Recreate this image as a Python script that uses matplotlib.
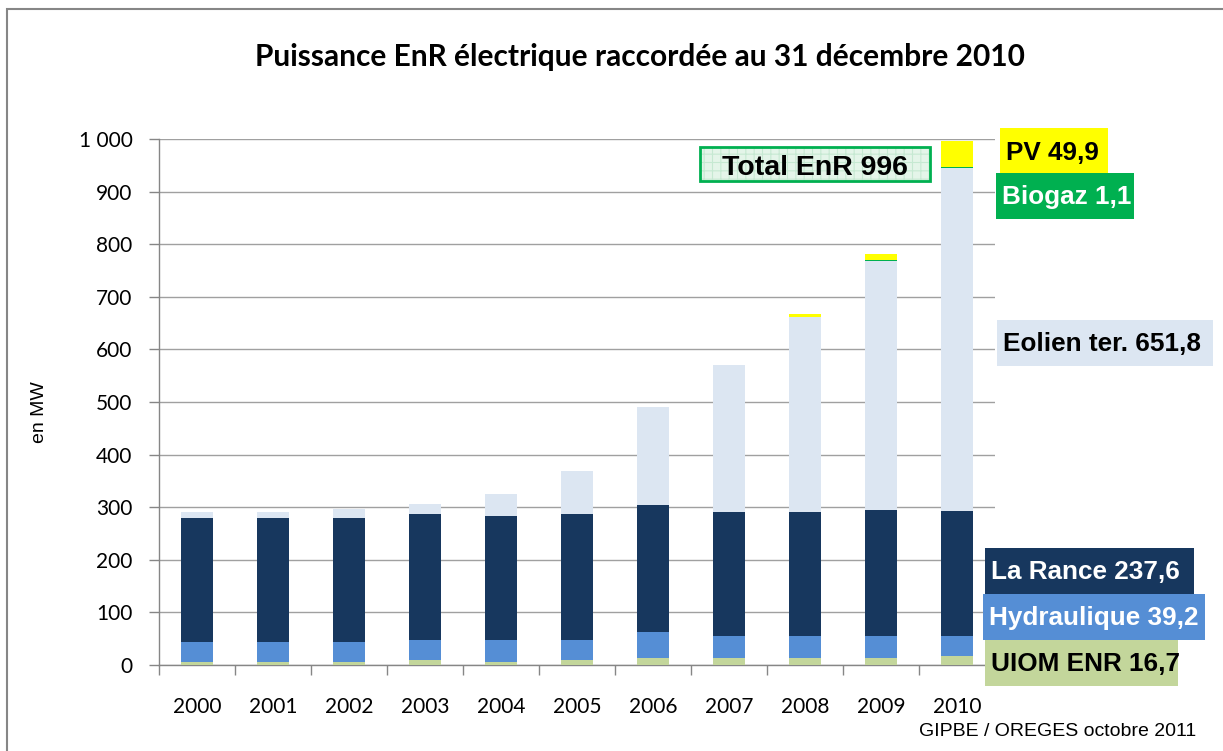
import matplotlib
matplotlib.use("Agg")
import matplotlib.pyplot as plt
import matplotlib.patches as patches
from matplotlib.ticker import FuncFormatter, MultipleLocator
import numpy as np

# values in MW
years = ["2000", "2001", "2002", "2003", "2004", "2005", "2006", "2007", "2008", "2009", "2010"]
uiom = [6, 6, 6, 10, 6, 10, 14, 13.5, 13.5, 13.5, 16.7]
hydro = [38, 38, 38, 38, 42, 38, 49, 41.5, 41.5, 41.5, 39.2]
rance = [236, 236, 236, 240, 236, 240, 241, 235, 235, 239, 237.6]
eolien = [11.5, 11.5, 17, 19, 42, 80, 186, 281, 372, 475, 651.8]
biogaz = [0, 0, 0, 0, 0, 0, 0, 0, 0.5, 0.8, 1.1]
pv = [0, 0, 0, 0, 0, 0, 0, 0, 5, 11, 49.9]

series_names = ["UIOM ENR", "Hydraulique", "La Rance", "Eolien ter.", "Biogaz", "PV"]
series_colors = ["#C3D69B", "#558ED5", "#17375E", "#DCE6F2", "#00B050", "#FFFF00"]
total_label = "Total EnR 996"

W, H = 1223, 751
fig = plt.figure(figsize=(W / 100, H / 100), dpi=100)


def fx(x):
    return x / W


def fy(y):
    return 1 - y / H


# outer chart frame (only top and left edges visible)
fig.patches.append(patches.Rectangle((fx(7), fy(H + 20)), 1.2, fy(9) - fy(H + 20),
                                     transform=fig.transFigure, fill=False,
                                     edgecolor="#868686", linewidth=1.5))

ax = fig.add_axes([fx(159), fy(665), fx(995) - fx(159), fy(139) - fy(665)])

x = np.arange(len(years))
bottom = np.zeros(len(years))
for vals, col in zip([uiom, hydro, rance, eolien, biogaz, pv], series_colors):
    ax.bar(x, vals, width=0.41, bottom=bottom, color=col, zorder=3)
    bottom += np.array(vals)

ax.set_xlim(-0.5, len(years) - 0.5)
ax.set_ylim(0, 1000)
ax.yaxis.set_major_locator(MultipleLocator(100))
ax.yaxis.set_major_formatter(FuncFormatter(lambda v, p: f"{int(v):,}".replace(",", " ")))
ax.grid(axis="y", color="#A0A0A0", linewidth=1, zorder=0)

ax.set_xticks(x)
ax.set_xticklabels(years)
ax.set_xticks(np.arange(len(years) + 1) - 0.5, minor=True)
ax.tick_params(axis="x", which="major", length=0, pad=23)
ax.tick_params(axis="x", which="minor", length=7, color="#868686", width=1)
ax.tick_params(axis="y", length=7, color="#868686", width=1, pad=12)
for lab in ax.get_xticklabels() + ax.get_yticklabels():
    lab.set_fontfamily("Lato")
    lab.set_fontsize(15)

for s in ["top", "right"]:
    ax.spines[s].set_visible(False)
for s in ["left", "bottom"]:
    ax.spines[s].set_color("#868686")
    ax.spines[s].set_linewidth(1)

fig.text(fx(640), fy(57), "Puissance EnR électrique raccordée au 31 décembre 2010",
         ha="center", va="center", fontsize=21.5, fontweight="bold", family="Lato")
fig.text(fx(40), fy(412), "en MW", rotation=90, ha="center", va="center",
         fontsize=14, family="Liberation Sans")
fig.text(fx(1196), fy(732), "GIPBE / OREGES octobre 2011", ha="right", va="center",
         fontsize=14, family="Liberation Sans")

# value labels for 2010 (boxes: x0, y0, x1, y1 in pixels)
label_boxes = [
    (1000, 128, 1108, 175, "#FFFF00", "black"),   # PV
    (996, 173, 1134, 219, "#00B050", "white"),    # Biogaz
    (997, 320, 1213, 366, "#DCE6F2", "black"),    # Eolien
    (985, 548, 1194, 594, "#17375E", "white"),    # La Rance
    (983, 594, 1205, 640, "#558ED5", "white"),    # Hydraulique
    (985, 640, 1178, 686, "#C3D69B", "black"),    # UIOM
]
label_series = [5, 4, 3, 2, 1, 0]
last = {0: uiom, 1: hydro, 2: rance, 3: eolien, 4: biogaz, 5: pv}
for (x0, y0, x1, y1, fc, tc), si in zip(label_boxes, label_series):
    fig.patches.append(patches.Rectangle((fx(x0), fy(y1)), fx(x1) - fx(x0), fy(y0) - fy(y1),
                                         transform=fig.transFigure, facecolor=fc,
                                         edgecolor="none", zorder=5))
    txt = f"{series_names[si]} {str(last[si][-1]).replace('.', ',')}"
    fig.text(fx(x0 + 6), fy((y0 + y1) / 2 + 1), txt, ha="left", va="center",
             fontsize=18.8, fontweight="bold", family="Liberation Sans", color=tc, zorder=6)

# total box with light green grid fill
plt.rcParams["hatch.linewidth"] = 0.8
tb = (700, 147, 930, 181)
fig.patches.append(patches.Rectangle((fx(tb[0]), fy(tb[3])), fx(tb[2]) - fx(tb[0]), fy(tb[1]) - fy(tb[3]),
                                     transform=fig.transFigure, facecolor="#E4F5E9",
                                     edgecolor="none", zorder=5))
fig.patches.append(patches.Rectangle((fx(tb[0]), fy(tb[3])), fx(tb[2]) - fx(tb[0]), fy(tb[1]) - fy(tb[3]),
                                     transform=fig.transFigure, fill=False, hatch="++",
                                     edgecolor="#C6E9D2", linewidth=0, zorder=5))
fig.patches.append(patches.Rectangle((fx(tb[0]), fy(tb[3])), fx(tb[2]) - fx(tb[0]), fy(tb[1]) - fy(tb[3]),
                                     transform=fig.transFigure, fill=False,
                                     edgecolor="#00B050", linewidth=2, zorder=5))
fig.text(fx(815), fy(168), total_label, ha="center", va="center", fontsize=20.5,
         fontweight="bold", family="Liberation Sans", zorder=6)

fig.savefig("out.png", dpi=100)
